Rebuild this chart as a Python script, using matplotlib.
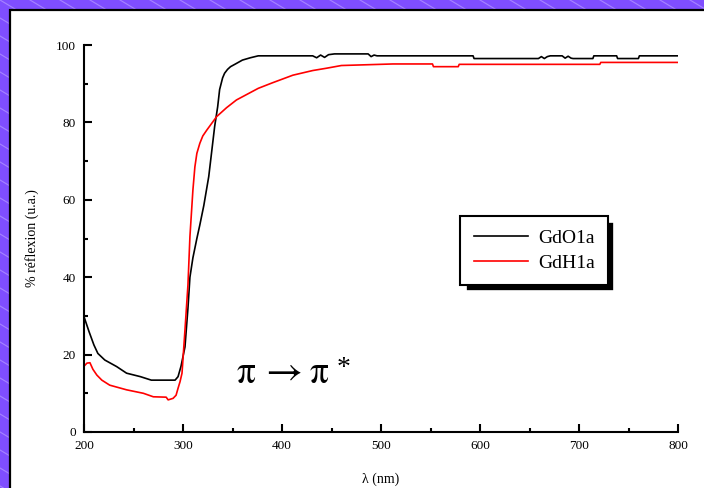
import matplotlib
matplotlib.use("Agg")
import matplotlib.pyplot as plt
from matplotlib.patches import Rectangle
from matplotlib.lines import Line2D
from matplotlib.transforms import IdentityTransform
from matplotlib.ticker import MultipleLocator

# GdO1a (black curve)
gdo_wl = [200, 205, 210, 214, 221, 233, 243, 257, 268, 292,
          295, 298, 302, 305, 307, 310, 314, 317, 321, 326,
          329, 332, 335, 337, 340, 342, 345, 348, 353, 360,
          368, 376, 431, 435, 439, 443, 447, 453, 487, 490,
          493, 496, 593, 594, 659, 662, 665, 668, 671, 683,
          686, 689, 692, 694, 714, 715, 738, 739, 760, 761, 800]
gdo_r = [29.8, 26.0, 22.5, 20.3, 18.6, 16.9, 15.2, 14.3, 13.4, 13.4,
         14.3, 17.0, 22.0, 32.0, 40.0, 45.0, 50.0, 53.5, 58.5, 66.0,
         72.5, 79.0, 84.0, 88.5, 91.5, 92.7, 93.7, 94.4, 95.1, 96.1,
         96.7, 97.2, 97.2, 96.7, 97.4, 96.8, 97.5, 97.7, 97.7, 97.0,
         97.4, 97.2, 97.2, 96.5, 96.5, 97.0, 96.5, 97.0, 97.2, 97.2,
         96.6, 97.1, 96.6, 96.5, 96.5, 97.2, 97.2, 96.5, 96.5, 97.2, 97.2]

# GdH1a (red curve)
gdh_wl = [200, 203, 206, 209, 213, 218, 226, 243, 260, 270,
          283, 285, 290, 293, 295, 297, 299, 302, 305, 307,
          310, 312, 314, 317, 320, 324, 334, 344, 354, 365,
          376, 390, 411, 431, 445, 460, 512, 552, 553, 578,
          579, 721, 722, 800]
gdh_r = [17.0, 17.8, 17.9, 16.2, 14.7, 13.4, 12.1, 10.9, 10.0, 9.1,
         9.0, 8.3, 8.7, 9.5, 11.3, 13.0, 15.2, 26.4, 38.0, 50.5,
         62.5, 68.5, 72.0, 74.6, 76.5, 78.0, 81.5, 83.8, 85.8, 87.3,
         88.8, 90.2, 92.2, 93.4, 94.0, 94.7, 95.1, 95.1, 94.4, 94.4,
         95.0, 95.0, 95.5, 95.5]

serif = ['Liberation Serif', 'DejaVu Serif']
stix = ['STIXGeneral', 'DejaVu Serif']
plt.rcParams['font.family'] = serif

fig = plt.figure(figsize=(7.04, 4.88), dpi=100, facecolor='#7f4eff')

# background: purple hatched border + white panel
for x0 in range(-900, 720, 30):
    fig.add_artist(Line2D([x0, x0 + 488 / 0.6], [488, 0], transform=IdentityTransform(),
                          color='white', alpha=0.3, lw=0.8, zorder=-2))
fig.add_artist(Rectangle((10 / 704, -0.05), 1.1, 1.05 - 10 / 488, transform=fig.transFigure,
                         facecolor='white', edgecolor='black', lw=1.6, zorder=-1))

ax = fig.add_axes([84 / 704, 1 - 432 / 488, 594 / 704, 387 / 488])
ax.set_facecolor('none')

ax.plot(gdo_wl, gdo_r, color='black', lw=1.2, label='GdO1a')
ax.plot(gdh_wl, gdh_r, color='red', lw=1.2, label='GdH1a')

ax.set_xlim(200, 800)
ax.set_ylim(0, 100)
ax.xaxis.set_major_locator(MultipleLocator(100))
ax.xaxis.set_minor_locator(MultipleLocator(50))
ax.yaxis.set_major_locator(MultipleLocator(20))
ax.yaxis.set_minor_locator(MultipleLocator(10))

for s in ['top', 'right']:
    ax.spines[s].set_visible(False)
for s in ['left', 'bottom']:
    ax.spines[s].set_linewidth(1.5)
ax.tick_params(which='major', direction='in', length=6, width=1.5, labelsize=9.5, pad=6)
ax.tick_params(which='minor', direction='in', length=3, width=1.5)

ax.set_xlabel('λ (nm)', fontsize=10)
ax.set_ylabel('% réflexion (u.a.)', fontsize=10)
ax.xaxis.set_label_coords(0.5, -0.105)
ax.yaxis.set_label_coords(-0.075, 0.5)

# π → π * annotation
ax.text(354, 15.2, 'π', fontsize=27, va='center', ha='left', family=stix)
ax.text(383, 15.2, '→', fontsize=29, va='center', ha='left', family=stix)
ax.text(428, 15.2, 'π', fontsize=27, va='center', ha='left', family=stix)
ax.text(455, 16.5, '*', fontsize=20, va='center', ha='left', family=serif)

leg = ax.legend(loc='upper left', bbox_to_anchor=(0.633, 0.558), fontsize=14,
                fancybox=False, framealpha=1, edgecolor='black', handlelength=2.8,
                handletextpad=0.5, labelspacing=0.35, borderpad=0.7, borderaxespad=0)
leg.get_frame().set_linewidth(1.5)
leg.set_zorder(5)

# legend drop shadow
fig.canvas.draw()
bb = leg.get_window_extent()
shadow = Rectangle((bb.x0 + 6, bb.y0 - 6), bb.width, bb.height, transform=IdentityTransform(),
                   facecolor='black', edgecolor='white', lw=1.2, zorder=4.9, clip_on=False)
ax.add_artist(shadow)

fig.savefig('out.png', dpi=100, facecolor=fig.get_facecolor())
